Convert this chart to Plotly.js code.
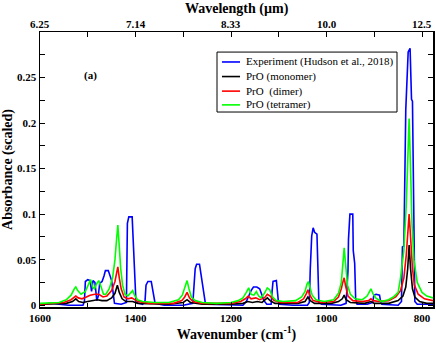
<!DOCTYPE html>
<html>
<head>
<meta charset="utf-8">
<script src="https://cdn.plot.ly/plotly-3.0.1.min.js"></script>
<style>
  html, body { margin: 0; padding: 0; background: #fff; }
  #chart { width: 436px; height: 343px; }
</style>
</head>
<body>
<div id="chart"></div>
<script>
// Experiment (Hudson et al., 2018) - stepped spectrum
const expWn = [1600, 1590, 1580, 1570, 1560, 1540, 1510, 1507, 1505, 1500, 1495, 1492, 1489, 1485, 1481, 1478, 1475, 1470, 1466, 1463, 1457, 1453, 1450, 1446, 1444, 1430, 1419, 1417, 1414, 1407, 1405, 1403, 1401, 1399, 1385, 1380, 1378, 1374, 1367, 1364, 1362, 1359, 1340, 1300, 1280, 1277, 1275, 1272, 1266, 1264, 1261, 1258, 1254, 1250, 1200, 1175, 1168, 1162, 1158, 1153, 1146, 1140, 1136, 1131, 1125, 1116, 1114, 1112, 1105, 1103, 1101, 1098, 1070, 1040, 1036, 1034, 1031, 1028, 1025, 1020, 1018, 1016, 1010, 970, 959, 957, 955, 954, 951, 945, 944, 941, 939, 936, 915, 903, 901, 896, 889, 887, 884, 850, 843, 841, 838, 834, 831, 829, 825, 823, 822, 820, 818, 817, 815, 810, 777];
const expAbs = [0.001, 0.001, 0.002, 0.002, 0.001, 0.0, 0.0, 0.004, 0.026, 0.028, 0.027, 0.015, 0.027, 0.025, 0.005, 0.010, 0.024, 0.026, 0.032, 0.038, 0.038, 0.032, 0.027, 0.010, 0.002, 0.001, 0.003, 0.090, 0.097, 0.097, 0.069, 0.040, 0.015, 0.003, 0.001, 0.005, 0.022, 0.026, 0.026, 0.018, 0.010, 0.002, 0.0, 0.0, 0.002, 0.028, 0.040, 0.045, 0.045, 0.038, 0.027, 0.012, 0.003, 0.001, 0.0, 0.0, 0.004, 0.012, 0.016, 0.020, 0.020, 0.018, 0.013, 0.005, 0.001, 0.001, 0.015, 0.026, 0.027, 0.018, 0.005, 0.001, 0.0, 0.0, 0.003, 0.040, 0.076, 0.085, 0.080, 0.078, 0.030, 0.003, 0.001, 0.0, 0.002, 0.020, 0.038, 0.072, 0.100, 0.100, 0.060, 0.046, 0.008, 0.001, 0.001, 0.003, 0.011, 0.012, 0.011, 0.005, 0.001, 0.0, 0.004, 0.064, 0.065, 0.215, 0.245, 0.278, 0.282, 0.245, 0.226, 0.224, 0.155, 0.120, 0.004, 0.001, 0.001];

// PrO (monomer)
const monoWn = [1600, 1545, 1532, 1525, 1519, 1510, 1500, 1490, 1480, 1470, 1460, 1450, 1443, 1438, 1434, 1428, 1420, 1406, 1395, 1330, 1300, 1292, 1285, 1260, 1200, 1175, 1165, 1155, 1145, 1135, 1124, 1118, 1108, 1060, 1045, 1039, 1034, 1025, 990, 975, 967, 963, 959, 950, 920, 907, 900, 870, 850, 840, 834, 830, 827, 824, 820, 815, 805, 790, 777];
const monoAbs = [0.001, 0.002, 0.004, 0.007, 0.004, 0.003, 0.004, 0.005, 0.006, 0.005, 0.005, 0.008, 0.013, 0.022, 0.014, 0.007, 0.004, 0.004, 0.002, 0.001, 0.003, 0.006, 0.003, 0.001, 0.001, 0.002, 0.004, 0.003, 0.004, 0.003, 0.008, 0.005, 0.002, 0.002, 0.004, 0.009, 0.005, 0.002, 0.002, 0.004, 0.007, 0.011, 0.006, 0.003, 0.002, 0.004, 0.002, 0.002, 0.005, 0.010, 0.020, 0.040, 0.066, 0.040, 0.018, 0.009, 0.004, 0.002, 0.002];

// PrO (dimer)
const dimWn = [1600, 1550, 1535, 1528, 1525, 1520, 1512, 1503, 1495, 1485, 1477, 1468, 1460, 1450, 1443, 1440, 1437, 1434, 1430, 1424, 1416, 1408, 1404, 1395, 1370, 1320, 1303, 1297, 1292, 1287, 1280, 1260, 1200, 1180, 1170, 1164, 1158, 1148, 1140, 1130, 1124, 1118, 1110, 1095, 1060, 1048, 1042, 1039, 1035, 1028, 1010, 985, 975, 969, 966, 963, 960, 955, 945, 925, 912, 907, 902, 890, 870, 855, 845, 838, 833, 830, 827, 824, 820, 816, 808, 795, 777];
const dimAbs = [0.001, 0.003, 0.006, 0.009, 0.010, 0.008, 0.007, 0.009, 0.011, 0.012, 0.012, 0.009, 0.010, 0.016, 0.026, 0.034, 0.042, 0.030, 0.018, 0.009, 0.007, 0.008, 0.007, 0.004, 0.002, 0.002, 0.005, 0.009, 0.014, 0.008, 0.004, 0.002, 0.002, 0.004, 0.007, 0.010, 0.007, 0.008, 0.006, 0.008, 0.012, 0.010, 0.005, 0.003, 0.003, 0.007, 0.013, 0.017, 0.011, 0.005, 0.003, 0.004, 0.009, 0.018, 0.025, 0.030, 0.021, 0.010, 0.005, 0.004, 0.005, 0.007, 0.005, 0.004, 0.005, 0.009, 0.016, 0.030, 0.055, 0.080, 0.100, 0.075, 0.040, 0.022, 0.012, 0.007, 0.005];

// PrO (tetramer)
const tetWn = [1600, 1560, 1545, 1535, 1528, 1525, 1521, 1514, 1505, 1498, 1494, 1490, 1486, 1481, 1477, 1472, 1467, 1462, 1455, 1448, 1443, 1440, 1437, 1434, 1431, 1427, 1422, 1416, 1410, 1406, 1402, 1396, 1385, 1360, 1330, 1310, 1302, 1297, 1292, 1288, 1283, 1275, 1260, 1230, 1200, 1185, 1175, 1168, 1163, 1158, 1152, 1147, 1142, 1137, 1130, 1124, 1119, 1113, 1105, 1090, 1065, 1052, 1045, 1041, 1038, 1035, 1030, 1022, 1005, 985, 975, 969, 966, 963, 960, 956, 950, 940, 925, 915, 910, 907, 903, 897, 885, 870, 860, 850, 845, 838, 833, 830, 827, 824, 821, 817, 810, 800, 790, 777];
const tetAbs = [0.002, 0.003, 0.006, 0.011, 0.018, 0.020, 0.016, 0.012, 0.015, 0.024, 0.028, 0.020, 0.018, 0.024, 0.027, 0.020, 0.012, 0.012, 0.018, 0.030, 0.050, 0.070, 0.088, 0.065, 0.040, 0.022, 0.012, 0.010, 0.013, 0.016, 0.011, 0.006, 0.004, 0.003, 0.003, 0.006, 0.011, 0.019, 0.027, 0.018, 0.009, 0.005, 0.003, 0.002, 0.003, 0.005, 0.008, 0.014, 0.019, 0.012, 0.011, 0.015, 0.010, 0.008, 0.013, 0.019, 0.017, 0.009, 0.005, 0.004, 0.005, 0.009, 0.015, 0.023, 0.026, 0.020, 0.011, 0.006, 0.004, 0.006, 0.013, 0.025, 0.045, 0.063, 0.045, 0.022, 0.012, 0.007, 0.006, 0.010, 0.015, 0.018, 0.013, 0.008, 0.004, 0.006, 0.009, 0.014, 0.030, 0.060, 0.110, 0.165, 0.205, 0.150, 0.090, 0.050, 0.025, 0.014, 0.010, 0.008];

const seriesNames = ['Experiment (Hudson et al., 2018)', 'PrO (monomer)', 'PrO  (dimer)', 'PrO (tetramer)'];
const seriesColors = ['#0000ff', '#000000', '#ff0000', '#00ff00'];

// top axis: wavelength labels at the wavenumber ticks
const wnTicks = [1600, 1400, 1200, 1000, 800];
const umLabels = ['6.25', '7.14', '8.33', '10.0', '12.5'];

const serif = 'Liberation Serif';

const xs = [expWn, monoWn, dimWn, tetWn];
const ys = [expAbs, monoAbs, dimAbs, tetAbs];
const traces = xs.map((x, i) => ({
    x: x, y: ys[i], name: seriesNames[i], mode: 'lines',
    line: {color: seriesColors[i], width: 1.6}, showlegend: false,
}));
// invisible copy so the top (wavelength) axis gets drawn
traces.push({x: expWn, y: expAbs, xaxis: 'x2', mode: 'lines', opacity: 0, showlegend: false, hoverinfo: 'skip'});

// hand-built legend box (compact rows like the original)
const legRows = [0.891, 0.838, 0.785, 0.735];
const shapes = [{
    type: 'rect', xref: 'paper', yref: 'paper', x0: 0.4504, x1: 0.9084, y0: 0.709, y1: 0.927,
    line: {color: '#000', width: 1}, fillcolor: '#fff', layer: 'above',
}];
const annotations = [
    {
        text: '<b>(a)</b>', xref: 'paper', yref: 'paper', x: 0.107, y: 0.873,
        showarrow: false, font: {family: serif, size: 11},
    },
    {   // top axis title
        text: '<b>Wavelength (µm)</b>', xref: 'paper', yref: 'paper', x: 0.5, y: 1.084,
        xanchor: 'center', yanchor: 'middle',
        showarrow: false, font: {family: serif, size: 14},
    },
];
// top axis tick labels, placed at the wavenumber ticks
umLabels.forEach((t, i) => {
    annotations.push({
        text: '<b>' + t + '</b>', xref: 'x', yref: 'paper', x: wnTicks[i], y: 1.029,
        xanchor: 'center', yanchor: 'middle',
        showarrow: false, font: {family: serif, size: 11},
    });
});
seriesNames.forEach((n, i) => {
    shapes.push({
        type: 'line', xref: 'paper', yref: 'paper', x0: 0.463, x1: 0.509, y0: legRows[i], y1: legRows[i],
        line: {color: seriesColors[i], width: 1.6}, layer: 'above',
    });
    annotations.push({
        text: n, xref: 'paper', yref: 'paper', x: 0.52, y: legRows[i], xanchor: 'left', yanchor: 'middle',
        showarrow: false, font: {family: serif, size: 11, color: '#000'},
    });
});

const layout = {
    width: 436,
    height: 343,
    margin: {l: 40, r: 3, t: 32, b: 36},
    paper_bgcolor: '#ffffff',
    plot_bgcolor: '#ffffff',
    font: {family: serif, color: '#000'},
    showlegend: false,
    xaxis: {
        range: [1600, 777],
        tickvals: wnTicks,
        ticks: 'inside', ticklen: 5, tickwidth: 1, tickcolor: '#000',
        minor: {dtick: 100, tick0: 1600, ticks: 'inside', ticklen: 4, tickcolor: '#000'},
        showline: true, linecolor: '#000', linewidth: 1.5,
        showgrid: false, zeroline: false,
        tickfont: {family: serif, size: 11, weight: 'bold'},
        title: {text: 'Wavenumber (cm<sup>-1</sup>)', font: {family: serif, size: 14, weight: 'bold'}, standoff: 3},
    },
    xaxis2: {
        overlaying: 'x', side: 'top',
        range: [1600, 777],
        tickvals: wnTicks,
        showticklabels: false,
        ticks: 'inside', ticklen: 5, tickwidth: 1, tickcolor: '#000',
        minor: {dtick: 100, tick0: 1600, ticks: 'inside', ticklen: 5, tickcolor: '#000'},
        showline: true, linecolor: '#000', linewidth: 1.5,
        showgrid: false, zeroline: false,
    },
    yaxis: {
        range: [-0.002, 0.3],
        tickvals: [0, 0.05, 0.1, 0.15, 0.2, 0.25],
        ticktext: ['0', '0.05', '0.1', '0.15', '0.2', '0.25'],
        ticks: 'inside', ticklen: 5, tickwidth: 1, tickcolor: '#000',
        minor: {dtick: 0.025, tick0: 0, ticks: 'inside', ticklen: 4, tickcolor: '#000'},
        showline: true, linecolor: '#000', linewidth: 1.5, mirror: 'allticks',
        showgrid: false, zeroline: false,
        tickfont: {family: serif, size: 11, weight: 'bold'},
        title: {text: 'Absorbance (scaled)', font: {family: serif, size: 14, weight: 'bold'}, standoff: 5},
    },
    shapes: shapes,
    annotations: annotations,
};

Plotly.newPlot('chart', traces, layout, {displayModeBar: false, staticPlot: true});
</script>
</body>
</html>
